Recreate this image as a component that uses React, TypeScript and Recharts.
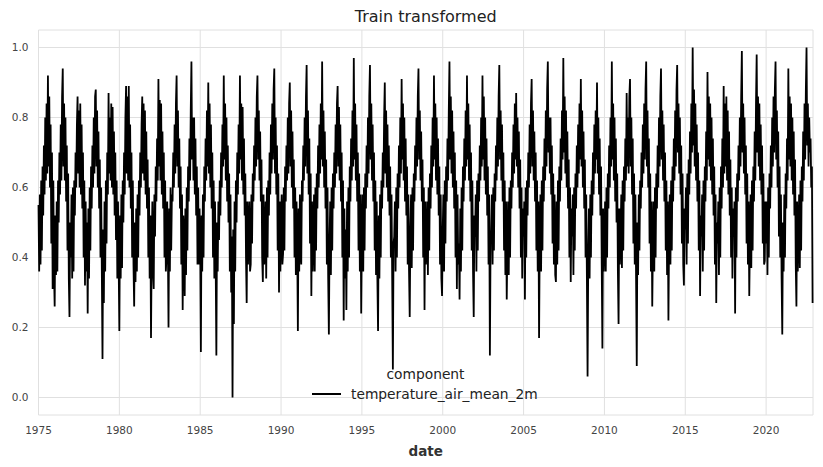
import { LineChart, Line, XAxis, YAxis, CartesianGrid, Legend } from "recharts";

// values in hundredths, 24 readings per year (about every 15 days)
const temps1970s = [
  [55, 36, 58, 38, 62, 42, 66, 52, 72, 58, 80, 62, 84, 64, 92, 66, 86, 60, 78, 44, 70, 31, 62, 36], // 1975
  [26, 52, 35, 56, 36, 62, 50, 70, 58, 78, 62, 86, 94, 66, 84, 62, 80, 56, 72, 42, 64, 34, 23, 50],
  [40, 58, 34, 60, 36, 62, 52, 70, 60, 78, 86, 64, 82, 60, 84, 58, 78, 54, 70, 40, 62, 32, 56, 36],
  [50, 24, 54, 34, 60, 42, 66, 54, 72, 60, 80, 64, 86, 88, 66, 82, 60, 76, 54, 68, 40, 60, 36, 11],
  [48, 27, 56, 36, 62, 44, 70, 58, 87, 64, 80, 62, 84, 60, 83, 58, 76, 52, 70, 45, 62, 34, 56, 38],
];
const temps1980s = [
  [19, 52, 34, 58, 37, 62, 50, 70, 58, 80, 89, 64, 86, 62, 89, 60, 78, 54, 70, 40, 62, 38, 26, 50], // 1980
  [33, 54, 36, 58, 40, 62, 52, 70, 60, 78, 86, 64, 84, 62, 82, 58, 76, 54, 68, 40, 60, 34, 52, 17],
  [42, 56, 36, 31, 58, 46, 66, 56, 74, 62, 91, 66, 85, 62, 84, 58, 76, 54, 70, 40, 62, 36, 40, 56],
  [44, 20, 54, 36, 60, 42, 58, 56, 70, 60, 78, 64, 84, 92, 66, 82, 60, 74, 54, 66, 38, 58, 25, 52],
  [46, 29, 54, 35, 60, 42, 66, 56, 74, 62, 82, 96, 68, 80, 62, 80, 58, 74, 52, 66, 38, 60, 38, 54],
  [44, 13, 52, 36, 58, 40, 66, 56, 74, 62, 82, 66, 90, 64, 84, 60, 78, 54, 70, 40, 62, 34, 56, 38],
  [12, 50, 36, 56, 45, 62, 52, 70, 60, 78, 66, 92, 68, 84, 62, 80, 56, 72, 50, 64, 36, 58, 30, 46],
  [0, 48, 21, 56, 36, 62, 50, 70, 58, 78, 64, 92, 68, 84, 62, 83, 58, 74, 52, 64, 40, 27, 56, 38],
  [50, 56, 36, 38, 58, 44, 64, 56, 72, 62, 80, 66, 86, 92, 68, 82, 62, 76, 56, 68, 40, 33, 58, 38],
  [42, 56, 34, 60, 40, 62, 52, 70, 58, 78, 64, 84, 68, 88, 94, 64, 80, 58, 72, 42, 64, 30, 56, 36],
];
const temps1990s = [
  [50, 58, 38, 41, 60, 42, 66, 56, 72, 62, 80, 64, 84, 90, 66, 82, 60, 76, 54, 68, 40, 60, 35, 56], // 1990
  [44, 19, 54, 36, 58, 42, 38, 62, 56, 72, 62, 80, 66, 86, 95, 64, 82, 58, 74, 44, 64, 29, 56, 36],
  [46, 58, 36, 60, 42, 64, 54, 72, 60, 78, 64, 84, 68, 96, 66, 82, 60, 76, 54, 68, 38, 60, 34, 18],
  [44, 56, 35, 60, 42, 64, 54, 70, 60, 78, 64, 84, 89, 66, 83, 62, 78, 56, 70, 40, 62, 22, 54, 34],
  [48, 25, 56, 36, 60, 40, 66, 56, 74, 62, 82, 66, 97, 68, 84, 62, 78, 56, 70, 42, 64, 36, 58, 24],
  [46, 58, 36, 60, 42, 64, 54, 72, 60, 80, 64, 86, 95, 68, 84, 62, 78, 56, 70, 42, 62, 35, 56, 34],
  [19, 52, 34, 58, 40, 62, 54, 70, 60, 80, 90, 64, 82, 60, 78, 56, 72, 52, 66, 40, 58, 34, 8, 44],
  [46, 56, 36, 60, 40, 64, 54, 72, 60, 80, 64, 91, 68, 84, 62, 80, 56, 74, 52, 66, 38, 58, 36, 23],
  [48, 58, 37, 60, 42, 64, 56, 72, 62, 80, 66, 86, 94, 68, 82, 62, 76, 56, 68, 40, 60, 25, 56, 38],
  [44, 56, 35, 60, 42, 64, 54, 72, 60, 80, 66, 92, 68, 84, 62, 80, 58, 74, 52, 66, 38, 58, 34, 29],
];
const temps2000s = [
  [48, 58, 36, 62, 44, 66, 56, 74, 62, 82, 96, 68, 86, 64, 82, 60, 76, 54, 70, 40, 62, 31, 58, 38], // 2000
  [44, 28, 54, 36, 60, 42, 66, 56, 74, 62, 82, 66, 92, 68, 84, 62, 78, 56, 70, 42, 62, 36, 23, 52],
  [46, 58, 36, 62, 42, 64, 56, 72, 62, 80, 66, 92, 68, 86, 62, 80, 58, 74, 52, 66, 38, 58, 12, 44],
  [48, 58, 38, 60, 42, 64, 56, 72, 62, 80, 66, 86, 95, 68, 82, 62, 78, 56, 70, 42, 62, 35, 56, 28],
  [44, 56, 35, 60, 40, 62, 54, 70, 60, 78, 64, 84, 68, 87, 66, 80, 60, 76, 54, 68, 40, 60, 34, 54],
  [46, 56, 28, 60, 40, 62, 52, 70, 60, 78, 64, 84, 91, 66, 82, 62, 76, 56, 70, 42, 62, 36, 56, 17],
  [46, 58, 36, 62, 42, 66, 56, 74, 62, 82, 66, 88, 96, 70, 80, 64, 80, 58, 72, 44, 64, 38, 58, 35],
  [33, 56, 38, 62, 42, 66, 56, 74, 62, 82, 68, 97, 70, 86, 64, 82, 60, 76, 54, 68, 40, 60, 33, 54],
  [46, 58, 35, 60, 42, 64, 54, 72, 60, 78, 64, 84, 68, 91, 66, 82, 60, 76, 54, 68, 40, 58, 34, 6],
  [40, 54, 34, 58, 40, 62, 52, 70, 58, 78, 64, 82, 68, 90, 64, 80, 58, 74, 52, 66, 38, 14, 54, 36],
];
const temps2010s = [
  [44, 56, 36, 60, 40, 64, 54, 72, 60, 80, 66, 96, 68, 84, 62, 80, 56, 74, 50, 64, 36, 21, 54, 38], // 2010
  [46, 58, 37, 62, 42, 66, 56, 74, 62, 87, 66, 80, 64, 86, 91, 66, 80, 58, 74, 44, 64, 38, 58, 34],
  [9, 50, 35, 58, 42, 62, 54, 70, 60, 78, 64, 84, 68, 88, 96, 66, 82, 60, 74, 44, 64, 36, 56, 26],
  [44, 56, 36, 60, 40, 64, 54, 72, 60, 80, 66, 86, 94, 68, 82, 62, 78, 56, 70, 42, 62, 35, 56, 22],
  [46, 58, 38, 62, 42, 66, 56, 74, 62, 82, 66, 88, 95, 70, 84, 64, 80, 58, 72, 44, 64, 38, 32, 54],
  [48, 60, 38, 64, 44, 68, 58, 76, 64, 84, 70, 100, 72, 88, 66, 84, 62, 78, 56, 70, 42, 62, 29, 52],
  [46, 58, 36, 62, 42, 66, 56, 76, 62, 93, 68, 86, 66, 84, 62, 80, 58, 74, 52, 66, 38, 58, 27, 50],
  [44, 56, 35, 60, 40, 66, 54, 74, 60, 89, 64, 84, 66, 86, 62, 82, 58, 76, 52, 68, 40, 60, 34, 54],
  [46, 56, 24, 60, 40, 64, 56, 72, 62, 80, 66, 86, 99, 70, 84, 64, 80, 58, 72, 44, 64, 38, 56, 29],
  [46, 58, 37, 62, 42, 66, 56, 76, 62, 84, 98, 70, 86, 66, 84, 62, 78, 58, 72, 44, 64, 38, 39, 56],
];
const temps2020s = [
  [44, 56, 35, 60, 40, 64, 54, 72, 60, 80, 66, 86, 70, 88, 96, 68, 82, 60, 76, 46, 66, 40, 58, 34], // 2020
  [18, 50, 36, 58, 40, 64, 54, 74, 62, 94, 68, 86, 66, 84, 62, 80, 58, 76, 52, 68, 38, 26, 56, 36],
  [46, 58, 37, 62, 42, 66, 56, 76, 62, 84, 68, 88, 100, 72, 84, 66, 80, 70, 74, 60, 66, 27],
];

const firstYear = 1975;
const perYear = 24;
const xTicks = [1975, 1980, 1985, 1990, 1995, 2000, 2005, 2010, 2015, 2020];
const yTicks = [0, 0.2, 0.4, 0.6, 0.8, 1.0];
const seriesName = "temperature_air_mean_2m";

const data = [...temps1970s, ...temps1980s, ...temps1990s, ...temps2000s, ...temps2010s, ...temps2020s].flatMap(
  (vals, k) => vals.map((v, i) => ({ date: firstYear + k + i / perYear, value: v / 100 }))
);

const font = "'DejaVu Sans', sans-serif";

const LegendBox = () => (
  <div style={{ position: "relative", width: 823, height: 467, fontFamily: font, fontSize: 13.8, color: "#222" }}>
    <div style={{ position: "absolute", left: 300, top: 366, width: 251, lineHeight: "16px", textAlign: "center" }}>
      component
    </div>
    <div style={{ position: "absolute", left: 312, top: 393, width: 29, height: 2, background: "#000" }} />
    <div style={{ position: "absolute", left: 351, top: 386, lineHeight: "16px", whiteSpace: "nowrap" }}>{seriesName}</div>
  </div>
);

const App = () => {
  return (
    <div style={{ position: "absolute", left: 0, top: 0, width: 823, height: 467, background: "#fff" }}>
      <div
        style={{
          position: "absolute",
          left: 38.5,
          top: 8.7,
          width: 774.5,
          textAlign: "center",
          fontFamily: font,
          fontSize: 16,
          lineHeight: "16px",
          color: "#222",
        }}
      >
        Train transformed
      </div>
      <LineChart width={823} height={467} data={data} margin={{ top: 30, right: 10, left: 8, bottom: 0 }}>
        <CartesianGrid stroke="#e0e0e0" strokeWidth={1} />
        <XAxis
          dataKey="date"
          type="number"
          domain={[1975, 2022.9]}
          ticks={xTicks}
          axisLine={false}
          tickLine={false}
          tickSize={0}
          tickMargin={12}
          height={52}
          tick={{ fontFamily: font, fontSize: 10.5, fill: "#444" }}
          label={{
            value: "date",
            position: "insideBottom",
            offset: 11,
            style: { fontFamily: font, fontSize: 13.5, fontWeight: "bold", fill: "#333" },
          }}
        />
        <YAxis
          type="number"
          domain={[-0.05, 1.05]}
          ticks={yTicks}
          width={30.5}
          axisLine={false}
          tickLine={false}
          tickSize={0}
          tickMargin={10}
          tickFormatter={(v: number) => v.toFixed(1)}
          tick={{ fontFamily: font, fontSize: 10.5, fill: "#444" }}
        />
        <Legend
          layout="horizontal"
          verticalAlign="middle"
          align="center"
          content={() => <LegendBox />}
          wrapperStyle={{ left: 0, top: 0, width: 823, height: 467, pointerEvents: "none" }}
        />
        <Line
          type="linear"
          dataKey="value"
          name={seriesName}
          stroke="#000"
          strokeWidth={1.8}
          dot={false}
          isAnimationActive={false}
        />
      </LineChart>
    </div>
  );
};

export default App;
